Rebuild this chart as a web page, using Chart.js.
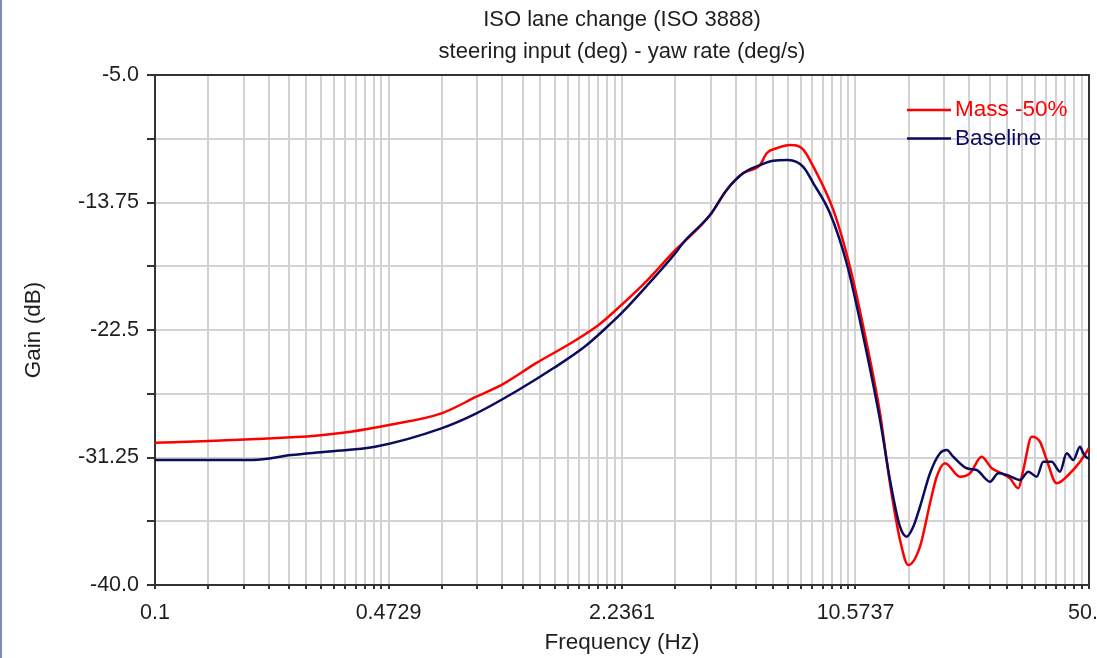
<!DOCTYPE html>
<html><head><meta charset="utf-8">
<script src="https://cdn.jsdelivr.net/npm/chart.js@4.4.1/dist/chart.umd.min.js"></script>
<style>
html,body{margin:0;padding:0;background:#fff;}
#wrap{position:relative;width:1097px;height:658px;overflow:hidden;}
#edge{position:absolute;left:0;top:0;width:2px;height:658px;background:#7b8db0;}
canvas{display:block;}
</style></head><body>
<div id="wrap"><canvas id="c" width="1097" height="658"></canvas><div id="edge"></div></div>
<script>
// ---- texts ----
const chartTitle = ['ISO lane change (ISO 3888)', 'steering input (deg) - yaw rate (deg/s)'];
const xAxisTitle = 'Frequency (Hz)';
const yAxisTitle = 'Gain (dB)';
const seriesNames = ['Mass -50%', 'Baseline'];
const seriesColors = ['#ff0000', '#0c0c5e'];

// ---- axis ticks ----
const xMajorTicks = [0.1, 0.4729, 2.2361, 10.5737, 50];
const xMajorLabels = ['0.1', '0.4729', '2.2361', '10.5737', '50.0'];
// minor grid lines inside each major interval, as ratios to the interval start
const xMinorRatios = [1.426, 1.802, 2.133, 2.444, 2.740, 3.024, 3.297, 3.552, 3.801, 4.039, 4.280, 4.508];
const yTicks = [-40, -35.625, -31.25, -26.875, -22.5, -18.125, -13.75, -9.375, -5];
const yLabels = ['-40.0', '', '-31.25', '', '-22.5', '', '-13.75', '', '-5.0'];

// ---- series: Mass -50% ----
const massFreq = [0.1, 0.1433, 0.1962, 0.2475, 0.2913, 0.3675, 0.4745, 0.6723, 0.8486, 1.022, 1.259, 1.589, 1.913, 2.200, 2.650, 3.192, 3.355, 4.017, 4.487, 5.002, 5.600, 5.856, 6.259, 6.839, 7.457, 7.988, 9.122, 10.19, 11.39, 12.45, 13.30, 14.22, 15.02, 16.24, 17.36, 18.15, 19.18, 21.19, 22.65, 24.48, 26.17, 27.97, 29.56, 31.24, 32.29, 34.15, 36.09, 37.73, 40.33, 44.06, 47.09, 50];
const massGain = [-30.23, -30.12, -29.98, -29.86, -29.75, -29.48, -29.02, -28.22, -27.08, -26.16, -24.79, -23.41, -22.16, -20.90, -19.07, -17.01, -16.53, -14.61, -12.89, -11.75, -11.18, -10.37, -10.03, -9.80, -10.1, -11.29, -14.26, -18.16, -23.41, -28.22, -33.02, -36.91, -38.63, -37.37, -34.39, -32.57, -31.65, -32.57, -32.33, -31.20, -31.99, -32.33, -32.68, -33.36, -32.11, -29.82, -30.17, -31.42, -33.02, -32.33, -31.54, -30.6];

// ---- series: Baseline ----
const baseFreq = [0.1, 0.1917, 0.2475, 0.3124, 0.4325, 0.6723, 0.8486, 1.122, 1.415, 1.743, 2.005, 2.251, 2.650, 3.192, 3.355, 4.017, 4.487, 5.002, 5.600, 6.107, 6.748, 7.457, 7.988, 8.922, 9.97, 11.14, 12.45, 13.30, 14.22, 14.87, 15.53, 16.24, 17.36, 18.55, 19.40, 20.27, 22.16, 23.68, 25.88, 27.35, 28.91, 31.59, 33.39, 35.30, 36.89, 39.01, 41.22, 43.10, 45.04, 47.09, 48.14, 49.77, 50];
const baseGain = [-31.42, -31.42, -31.08, -30.85, -30.51, -29.25, -28.22, -26.62, -25.13, -23.65, -22.38, -21.24, -19.41, -17.22, -16.53, -14.61, -12.89, -11.75, -11.18, -10.88, -10.83, -11.29, -12.43, -14.49, -17.92, -22.96, -28.68, -32.79, -36.00, -36.69, -36.00, -34.63, -32.33, -30.96, -30.74, -31.20, -31.99, -32.11, -32.91, -32.33, -32.45, -32.79, -32.22, -32.57, -31.54, -31.54, -32.22, -30.96, -31.42, -30.51, -30.96, -31.31, -31.3];

const FONT = "'Liberation Sans', Arial, sans-serif";
const TEXT = '#1e1e1e';

function pts(xs, ys) { return xs.map((x, i) => ({x: x, y: ys[i]})); }

function buildXTicks() {
  const out = [];
  for (let i = 0; i < xMajorTicks.length; i++) {
    out.push({value: xMajorTicks[i], major: true});
    if (i < xMajorTicks.length - 1) {
      xMinorRatios.forEach(r => out.push({value: xMajorTicks[i] * r, major: false}));
    }
  }
  return out;
}

const framePlugin = {
  id: 'frame',
  beforeDatasetsDraw(chart) {
    const {ctx, chartArea: a} = chart;
    ctx.save();
    ctx.strokeStyle = '#333';
    ctx.lineWidth = 2;
    ctx.beginPath();
    ctx.moveTo(a.left, a.top); ctx.lineTo(a.right, a.top); ctx.lineTo(a.right, a.bottom);
    ctx.stroke();
    ctx.restore();
  },
  afterDraw(chart) {
    const {ctx, chartArea: a} = chart;
    ctx.save();
    // titles (centred over the plot area)
    const cx = (a.left + a.right) / 2;
    ctx.fillStyle = TEXT;
    ctx.font = '22px ' + FONT;
    ctx.textAlign = 'center';
    ctx.textBaseline = 'middle';
    ctx.fillText(chartTitle[0], cx, 20);
    ctx.fillText(chartTitle[1], cx, 52);
    // legend
    chart.data.datasets.forEach((ds, i) => {
      const y = 110 + i * 28.5;
      ctx.strokeStyle = ds.borderColor;
      ctx.lineWidth = 2.5;
      ctx.beginPath(); ctx.moveTo(907, y); ctx.lineTo(951, y); ctx.stroke();
      ctx.fillStyle = ds.borderColor;
      ctx.font = '22.5px ' + FONT;
      ctx.textAlign = 'left';
      ctx.fillText(ds.label, 955, y);
    });
    ctx.restore();
  }
};

new Chart(document.getElementById('c'), {
  type: 'line',
  data: {
    datasets: [
      {label: seriesNames[0], data: pts(massFreq, massGain), borderColor: seriesColors[0], borderWidth: 2.5, pointRadius: 0, cubicInterpolationMode: 'monotone', order: 1},
      {label: seriesNames[1], data: pts(baseFreq, baseGain), borderColor: seriesColors[1], borderWidth: 2.5, pointRadius: 0, cubicInterpolationMode: 'monotone', order: 0}
    ]
  },
  options: {
    responsive: false,
    devicePixelRatio: 1,
    animation: false,
    events: [],
    layout: {padding: {left: 0, right: 8, top: 75, bottom: 0}, autoPadding: false},
    plugins: {legend: {display: false}, title: {display: false}, tooltip: {enabled: false}},
    scales: {
      x: {
        type: 'logarithmic', position: 'bottom', min: 0.1, max: 50,
        afterBuildTicks: s => { s.ticks = buildXTicks(); },
        afterFit: s => { s.height = 73; s.paddingLeft = 0; s.paddingRight = 0; },
        ticks: {
          autoSkip: false, maxRotation: 0, minRotation: 0, padding: 11,
          color: TEXT, font: {family: FONT, size: 21.5},
          callback: (v) => {
            const k = xMajorTicks.findIndex(m => Math.abs(v - m) / m < 1e-6);
            return k >= 0 ? xMajorLabels[k] : '';
          }
        },
        grid: {color: '#d3d3d3', lineWidth: 2, tickColor: '#333', tickLength: 4, tickWidth: 2},
        border: {color: '#333', width: 2},
        title: {display: true, text: xAxisTitle, color: TEXT, font: {family: FONT, size: 22.5}, padding: {top: 0, bottom: 2}}
      },
      y: {
        type: 'linear', position: 'left', min: -40, max: -5,
        afterBuildTicks: s => { s.ticks = yTicks.map(v => ({value: v})); },
        afterFit: s => { s.width = 155; s.paddingTop = 0; s.paddingBottom = 0; },
        ticks: {
          autoSkip: false, padding: 8, color: TEXT, font: {family: FONT, size: 21.5},
          callback: (v) => { const k = yTicks.indexOf(v); return k >= 0 ? yLabels[k] : ''; }
        },
        grid: {color: '#d3d3d3', lineWidth: 2, tickColor: '#333', tickLength: 8, tickWidth: 2},
        border: {color: '#333', width: 2},
        title: {display: true, text: yAxisTitle, color: TEXT, font: {family: FONT, size: 22.5}, padding: {top: 20, bottom: 0}}
      }
    }
  },
  plugins: [framePlugin]
});
</script>
</body></html>
